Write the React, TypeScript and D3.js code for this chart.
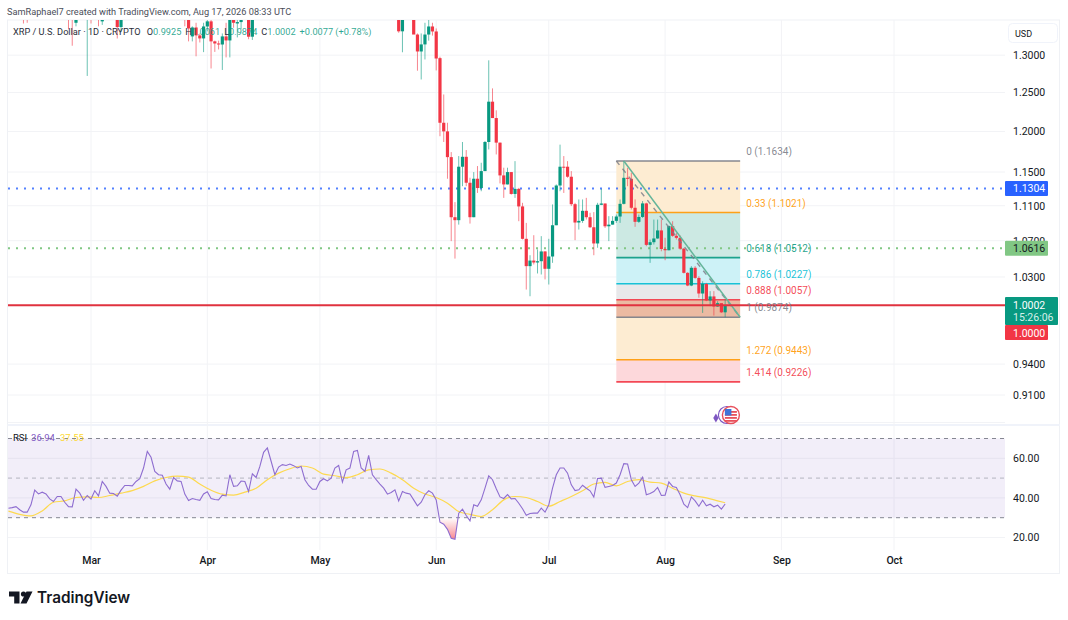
import * as d3 from "d3";
import { useEffect, useRef } from "react";

const width = 1068;
const height = 620;
const FONT = "Roboto, 'Noto Sans', sans-serif";

// candles that show inside the price pane, everything else in Feb-May sits above it
const candleDates = [
  "02-11", "02-12", "02-23", "02-24", "02-25", "02-28", "03-01", "03-03", "03-04", "03-08",
  "03-09", "03-26", "03-27", "03-28", "03-29", "03-30", "03-31", "04-01", "04-02", "04-03",
  "04-04", "04-05", "04-06", "04-07", "04-08", "04-09", "04-10", "04-12", "04-13", "05-22",
  "05-23", "05-26", "05-27", "05-28", "05-29", "05-30", "05-31", "06-01",
  "06-02", "06-03", "06-04", "06-05", "06-06", "06-07", "06-08", "06-09", "06-10", "06-11",
  "06-12", "06-13", "06-14", "06-15", "06-16", "06-17", "06-18", "06-19", "06-20", "06-21",
  "06-22", "06-23", "06-24", "06-25", "06-26", "06-27", "06-28", "06-29", "06-30",
  "07-01", "07-02", "07-03", "07-04", "07-05", "07-06", "07-07", "07-08", "07-09", "07-10",
  "07-11", "07-12", "07-13", "07-14", "07-15", "07-16", "07-17", "07-18", "07-19", "07-20",
  "07-21", "07-22", "07-23", "07-24", "07-25", "07-26", "07-27", "07-28", "07-29", "07-30", "07-31",
  "08-01", "08-02", "08-03", "08-04", "08-05", "08-06", "08-07", "08-08", "08-09", "08-10",
  "08-11", "08-12", "08-13", "08-14", "08-15", "08-16", "08-17",
];
const opens = [
  1.39, 1.38, 1.39, 1.39, 1.345, 1.37, 1.39, 1.39, 1.347, 1.36,
  1.339, 1.38, 1.36, 1.3259, 1.3384, 1.3273, 1.3231, 1.3398, 1.347, 1.319,
  1.3161, 1.3147, 1.3259, 1.3203, 1.352, 1.344, 1.346, 1.37, 1.3255, 1.37,
  1.333, 1.352, 1.3285, 1.3051, 1.3148, 1.3285, 1.3398, 1.3328,
  1.296, 1.211, 1.2001, 1.1681, 1.0967, 1.0933, 1.1564, 1.1685, 1.1371, 1.0967,
  1.1419, 1.1308, 1.1511, 1.1868, 1.2381, 1.217, 1.186, 1.1459, 1.1351, 1.1499,
  1.1238, 1.1298, 1.1092, 1.0721, 1.0418, 1.0479, 1.0458, 1.0472, 1.058,
  1.0389, 1.0524, 1.0875, 1.1338, 1.1564, 1.1564, 1.1443, 1.1118, 1.0906, 1.0925,
  1.1041, 1.0967, 1.0852, 1.0669, 1.1111, 1.1126, 1.0863, 1.0882, 1.0925, 1.0975,
  1.1122, 1.143, 1.1418, 1.1076, 1.0914, 1.097, 1.1127, 1.0653, 1.0683, 1.0725, 1.0816,
  1.0607, 1.0593, 1.0865, 1.0755, 1.0732, 1.0611, 1.0345, 1.0208, 1.04, 1.029,
  1.0123, 1.0225, 1.0049, 1.0092, 0.9986, 1.0021, 0.9925,
];
const highs = [
  1.41, 1.4, 1.4, 1.4, 1.37, 1.39, 1.41, 1.4, 1.37, 1.37,
  1.37, 1.39, 1.37, 1.34, 1.345, 1.33, 1.345, 1.36, 1.36, 1.32,
  1.32, 1.33, 1.345, 1.37, 1.37, 1.352, 1.365, 1.38, 1.38, 1.38,
  1.365, 1.37, 1.33, 1.33, 1.345, 1.35, 1.345, 1.337,
  1.298, 1.2475, 1.211, 1.1743, 1.1142, 1.1694, 1.1868, 1.1768, 1.1431, 1.1499,
  1.1572, 1.1612, 1.188, 1.293, 1.2555, 1.2269, 1.186, 1.1552, 1.1552, 1.1499,
  1.1632, 1.131, 1.1134, 1.0902, 1.0538, 1.0762, 1.0602, 1.0751, 1.0583,
  1.0721, 1.1115, 1.1351, 1.1835, 1.1694, 1.1632, 1.1511, 1.1134, 1.1173, 1.1173,
  1.1192, 1.1018, 1.1026, 1.1134, 1.1298, 1.1126, 1.0979, 1.0979, 1.0998, 1.1173,
  1.1634, 1.1551, 1.149, 1.1174, 1.0998, 1.1155, 1.1135, 1.0713, 1.094, 1.094, 1.094,
  1.0732, 1.0872, 1.0921, 1.0789, 1.0759, 1.0619, 1.0352, 1.0418, 1.0418, 1.0309,
  1.0254, 1.0236, 1.0148, 1.0148, 1.0042, 1.0018, 1.0061,
];
const lows = [
  1.344, 1.345, 1.336, 1.313, 1.34, 1.272, 1.344, 1.34, 1.342, 1.323,
  1.332, 1.34, 1.319, 1.319, 1.2985, 1.3175, 1.3042, 1.333, 1.282, 1.3045,
  1.3079, 1.28, 1.297, 1.297, 1.338, 1.3245, 1.336, 1.322, 1.321, 1.331,
  1.304, 1.33, 1.279, 1.2673, 1.2942, 1.32, 1.327, 1.2794,
  1.194, 1.1868, 1.1419, 1.0695, 1.0501, 1.0882, 1.133, 1.133, 1.0894, 1.0967,
  1.125, 1.127, 1.1511, 1.1776, 1.217, 1.1714, 1.1363, 1.1192, 1.1351, 1.123,
  1.1192, 1.0921, 1.0714, 1.0165, 1.0094, 1.0436, 1.0338, 1.0327, 1.0274,
  1.0219, 1.0454, 1.0875, 1.127, 1.125, 1.1431, 1.1096, 1.0706, 1.0826, 1.0902,
  1.094, 1.0844, 1.0538, 1.0621, 1.1107, 1.0844, 1.0695, 1.0882, 1.0902, 1.0902,
  1.1115, 1.133, 1.1056, 1.0857, 1.0902, 1.0959, 1.0638, 1.0454, 1.0657, 1.0721, 1.0582,
  1.0483, 1.0593, 1.0744, 1.0713, 1.06, 1.0338, 1.0201, 1.0201, 1.028, 1.0078,
  0.9919, 1.0042, 0.999, 0.9891, 0.9982, 0.9919, 0.9874,
];
const closes = [
  1.37, 1.37, 1.37, 1.37, 1.35, 1.39, 1.37, 1.37, 1.352, 1.339,
  1.36, 1.36, 1.337, 1.3384, 1.3273, 1.3231, 1.3398, 1.347, 1.319, 1.3161,
  1.3147, 1.3259, 1.3203, 1.352, 1.345, 1.346, 1.35, 1.3255, 1.37, 1.333,
  1.365, 1.3285, 1.3051, 1.3148, 1.3285, 1.3398, 1.3328, 1.2955,
  1.211, 1.2001, 1.1681, 1.0967, 1.0933, 1.1564, 1.1685, 1.1371, 1.0967, 1.1419,
  1.1308, 1.1511, 1.1868, 1.2381, 1.217, 1.186, 1.1459, 1.1351, 1.1499, 1.1238,
  1.1298, 1.1092, 1.0721, 1.0418, 1.0479, 1.0458, 1.0472, 1.058, 1.0389,
  1.0524, 1.0875, 1.1338, 1.1564, 1.1556, 1.1443, 1.1118, 1.0906, 1.0925, 1.1041,
  1.0967, 1.0852, 1.0669, 1.1111, 1.1126, 1.0863, 1.0882, 1.0925, 1.0975, 1.1122,
  1.143, 1.1418, 1.1076, 1.0914, 1.097, 1.1127, 1.0653, 1.0683, 1.0725, 1.0816, 1.0607,
  1.0593, 1.0865, 1.0755, 1.0732, 1.0611, 1.0345, 1.0208, 1.04, 1.029, 1.0123,
  1.0225, 1.0049, 1.0092, 0.9986, 1.0021, 0.9925, 1.0002,
];

// RSI, one value a day from Feb 7 to Aug 17
const rsiValues = [
  34.8, 35.1, 35.6, 34, 32.8, 32.8, 36.5, 43.9, 42, 42.9,
  42, 39.5, 38.2, 40.7, 40.7, 37.8, 35.6, 35.5, 44.4, 42.4,
  38.8, 41.2, 39.4, 43.6, 41, 48.3, 45.8, 42.4, 42.2, 40.9,
  43.9, 46.3, 46.3, 46.1, 48.3, 49.7, 55.1, 63.5, 60.5, 53.4,
  51.7, 51.4, 47, 44.4, 50.3, 48.6, 48.3, 41.9, 38.7, 39.7,
  39.2, 38.8, 42, 43.1, 39.7, 39.2, 39, 41.4, 41, 51.7,
  45.8, 46.1, 48.5, 48.3, 43.2, 52.2, 50.3, 55.9, 63, 65.2,
  58.5, 51.7, 55.6, 56.8, 56.4, 57.1, 56.3, 55.1, 55.9, 49.2,
  46.3, 44.4, 44.4, 48.3, 49.7, 48.6, 50, 55.1, 56.4, 48,
  54.2, 55.1, 63.5, 64, 55.1, 53.4, 61.5, 51.7, 49.2, 47,
  44.9, 41.9, 42.7, 44.1, 38.5,
  43.2, 42.4, 42, 39, 36, 37.8, 41.6, 43.6, 42.4, 39,
  27.7, 26.7, 24.1, 19.6, 19.1, 32.3, 34.3, 31.1, 28.4, 36.5,
  35.8, 39, 44.9, 51.2, 49.2, 44.6, 40.5, 39.7, 41.7, 39.5,
  39.7, 37.3, 34.5, 31.2, 32.1, 32.3, 32.3, 34.8, 32.8, 36.5,
  44.9, 51.7, 55.1, 55.1, 52.5, 46.6, 43.7, 44.1, 46.4, 44.9,
  43.6, 40.4, 49.8, 50, 45.3, 45.8, 46.3, 47.5, 51.7, 57.3,
  57.1, 49.2, 45.8, 47.5, 50.5, 41.6, 42.2, 43.2, 45.3, 41.2,
  41.4, 48.1, 45.8, 45.3, 41.6, 36.8, 35.1, 40.5, 38.5, 35.8,
  38.8, 36, 36.8, 35.5, 36.3, 34.3, 36.94,
];
// RSI moving average, read every third day, last point on Aug 17
const rsiMaValues = [
  33.3, 31.7, 30.9, 33.4, 37.8, 38.5, 40.2, 40.5, 40.2, 41.2,
  42.4, 43.7, 45.8, 48.6, 50.3, 51, 50.5, 47, 43.9, 41.9,
  41.4, 42.9, 44.9, 49.2, 52.5, 54.7, 56.1, 55.1, 52, 51.2,
  50.2, 51.7, 54.2, 54.6, 52.5,
  49.2, 44.9, 42, 40.2, 37.3, 33.1, 31.7, 30.6, 34, 39,
  40.7, 40.2, 38.2, 35.8, 38.2, 40.7, 43.6, 47, 47.8, 46.1,
  48.3, 49.2, 48, 47.5, 44.9, 42.4, 41, 40, 38.5, 37.55,
];

const priceTicks = [1.3, 1.25, 1.2, 1.15, 1.11, 1.07, 1.03, 0.94, 0.91];
const rsiTicks = [60, 40, 20];
const rsiBands = [70, 50, 30];
const monthDates = ["2026-03-01", "2026-04-01", "2026-05-01", "2026-06-01", "2026-07-01", "2026-08-01", "2026-09-01", "2026-10-01"];

const fibRatios = ["0", "0.33", "0.618", "0.786", "0.888", "1", "1.272", "1.414"];
const fibPrices = [1.1634, 1.1021, 1.0512, 1.0227, 1.0057, 0.9874, 0.9443, 0.9226];
const fibLineColors = ["#787b86", "#ff9800", "#089981", "#00bcd4", "#f23645", "#787b86", "#ff9800", "#f23645"];
// the band under each level, the first level has none
const fibBandColors = ["", "#fdecd2", "#cce9e3", "#cdf2f7", "#e8e8ea", "#ebbaa2", "#fdecd2", "#fdd8db"];
const fibStart = "2026-07-19";
const fibEnd = "2026-08-21";
const trendStart = "2026-07-21";

const bluePrice = 1.1304;
const greenPrice = 1.0616;
const roundPrice = 1.0;
const lastPrice = 1.0002;

const parse = (s: string) => d3.utcParse("%Y-%m-%d")(s) as Date;

export default function App() {
  const svgRef = useRef<SVGSVGElement | null>(null);

  useEffect(() => {
    if (!svgRef.current) return;
    const svg = d3.select(svgRef.current);
    svg.selectAll("*").remove();

    const paneLeft = 8;
    const paneRight = 1005;
    const mainTop = 20;
    const mainBottom = 425;
    const rsiBottom = 550;

    const x = d3.scaleUtc().domain([parse("2026-03-01"), parse("2026-10-01")]).range([91, 894]);
    const y = d3.scaleLog().domain([0.91, 1.3]).range([395, 55.2]);
    const rsiY = d3.scaleLinear().domain([20, 70]).range([537.5, 438.5]);
    const firstRsiDay = parse("2026-02-07");
    const rsiX = (i: number) => x(d3.utcDay.offset(firstRsiDay, i));

    svg.attr("font-family", FONT);

    const defs = svg.append("defs");
    defs.append("clipPath").attr("id", "main-clip").append("rect")
      .attr("x", paneLeft).attr("y", mainTop).attr("width", paneRight - paneLeft).attr("height", mainBottom - mainTop);
    defs.append("clipPath").attr("id", "oversold-clip").append("rect")
      .attr("x", paneLeft).attr("y", rsiY(30)).attr("width", paneRight - paneLeft).attr("height", rsiBottom - rsiY(30));
    const grad = defs.append("linearGradient").attr("id", "oversold")
      .attr("gradientUnits", "userSpaceOnUse")
      .attr("x1", 0).attr("x2", 0).attr("y1", rsiY(30)).attr("y2", rsiY(19));
    grad.append("stop").attr("offset", "0%").attr("stop-color", "#f23645").attr("stop-opacity", 0);
    grad.append("stop").attr("offset", "100%").attr("stop-color", "#f23645").attr("stop-opacity", 0.6);

    // frame
    svg.append("rect").attr("x", 7.5).attr("y", 20).attr("width", 1052).attr("height", 553.5)
      .attr("fill", "none").attr("stroke", "#eff1f5");
    svg.append("line").attr("x1", 7.5).attr("x2", 1060).attr("y1", mainBottom).attr("y2", mainBottom)
      .attr("stroke", "#f0f3fa").attr("stroke-width", 2);

    // grid
    const grid = svg.append("g").attr("stroke", "#f2f3f6");
    grid.selectAll(".hgrid").data(priceTicks).join("line")
      .attr("x1", paneLeft).attr("x2", paneRight).attr("y1", (d) => y(d)).attr("y2", (d) => y(d));
    grid.append("line").attr("x1", paneLeft).attr("x2", paneRight).attr("y1", 422.5).attr("y2", 422.5);
    grid.selectAll(".rgrid").data(rsiTicks).join("line")
      .attr("x1", paneLeft).attr("x2", paneRight).attr("y1", (d) => rsiY(d)).attr("y2", (d) => rsiY(d));
    grid.selectAll(".vgrid").data(monthDates).join("line")
      .attr("x1", (d) => x(parse(d))).attr("x2", (d) => x(parse(d)))
      .attr("y1", mainTop).attr("y2", rsiBottom);

    // fib bands and levels
    const fibX0 = x(parse(fibStart));
    const fibX1 = x(parse(fibEnd));
    const fib = svg.append("g");
    fibPrices.forEach((p, i) => {
      if (i === 0) return;
      fib.append("rect").attr("x", fibX0).attr("width", fibX1 - fibX0)
        .attr("y", y(fibPrices[i - 1])).attr("height", y(p) - y(fibPrices[i - 1]))
        .attr("fill", fibBandColors[i]);
    });
    fibPrices.forEach((p, i) => {
      fib.append("line").attr("x1", fibX0).attr("x2", fibX1).attr("y1", y(p)).attr("y2", y(p))
        .attr("stroke", fibLineColors[i]).attr("stroke-width", 1.6).attr("stroke-opacity", 0.9);
    });

    // dotted levels
    svg.append("line").attr("x1", paneLeft).attr("x2", paneRight).attr("y1", y(bluePrice)).attr("y2", y(bluePrice))
      .attr("stroke", "#2962ff").attr("stroke-opacity", 0.8).attr("stroke-width", 2).attr("stroke-dasharray", "2 6");
    svg.append("line").attr("x1", paneLeft).attr("x2", paneRight).attr("y1", y(greenPrice)).attr("y2", y(greenPrice))
      .attr("stroke", "#81c784").attr("stroke-width", 2).attr("stroke-dasharray", "2 6");

    // candles
    const candles = svg.append("g").attr("clip-path", "url(#main-clip)");
    candleDates.forEach((d, i) => {
      const cx = x(parse(`2026-${d}`));
      const up = closes[i] >= opens[i];
      const color = up ? "#089981" : "#f23645";
      candles.append("line").attr("x1", cx).attr("x2", cx)
        .attr("y1", y(highs[i])).attr("y2", y(lows[i]))
        .attr("stroke", color).attr("stroke-width", 1).attr("stroke-opacity", 0.6);
      const top = y(Math.max(opens[i], closes[i]));
      const bottom = y(Math.min(opens[i], closes[i]));
      candles.append("rect").attr("x", cx - 1.6).attr("width", 3.2)
        .attr("y", top).attr("height", Math.max(1, bottom - top))
        .attr("fill", color);
    });

    // trend lines over the candles
    const overlay = svg.append("g").attr("clip-path", "url(#main-clip)");
    overlay.append("line").attr("x1", fibX0).attr("y1", y(fibPrices[0])).attr("x2", fibX1).attr("y2", y(fibPrices[5]))
      .attr("stroke", "#787b86").attr("stroke-opacity", 0.8).attr("stroke-width", 1.4).attr("stroke-dasharray", "5 5");
    overlay.append("line").attr("x1", x(parse(trendStart))).attr("y1", y(fibPrices[0])).attr("x2", fibX1).attr("y2", y(fibPrices[5]))
      .attr("stroke", "#65b59a").attr("stroke-width", 1.5);
    overlay.append("line").attr("x1", paneLeft).attr("x2", paneRight).attr("y1", y(roundPrice)).attr("y2", y(roundPrice))
      .attr("stroke", "#e0323f").attr("stroke-width", 2);

    // fib labels
    svg.append("g").selectAll("text").data(fibPrices).join("text")
      .attr("x", fibX1 + 6).attr("y", (d) => y(d) - 6)
      .attr("font-size", 10)
      .attr("fill", (_, i) => fibLineColors[i])
      .attr("fill-opacity", 0.9)
      .text((d, i) => `${fibRatios[i]} (${d.toFixed(4)})`);

    // event marker under the last candles
    const eventX = x(parse("2026-08-18"));
    const marker = svg.append("g").attr("transform", `translate(${eventX}, 415)`);
    marker.append("circle").attr("cx", -2).attr("r", 8.5).attr("fill", "#fff").attr("stroke", "#7e57c2").attr("stroke-width", 1.2);
    marker.append("path").attr("d", d3.symbol().type(d3.symbolDiamond).size(24)()).attr("transform", "translate(-13, 3)").attr("fill", "#7e57c2");
    marker.append("circle").attr("cx", 2).attr("r", 8.5).attr("fill", "#fff").attr("stroke", "#e8505b").attr("stroke-width", 1.4);
    [-4, -1, 2, 5].forEach((dy) => {
      marker.append("rect").attr("x", -4).attr("y", dy).attr("width", 12).attr("height", 1.8).attr("fill", "#e8505b");
    });
    marker.append("rect").attr("x", -4).attr("y", -6).attr("width", 6.5).attr("height", 6.5).attr("fill", "#3f74d8");

    // RSI pane
    const rsi = svg.append("g");
    rsi.append("rect").attr("x", paneLeft).attr("width", paneRight - paneLeft)
      .attr("y", rsiY(70)).attr("height", rsiY(30) - rsiY(70))
      .attr("fill", "#7e57c2").attr("fill-opacity", 0.1);
    rsi.selectAll(".band").data(rsiBands).join("line")
      .attr("x1", paneLeft).attr("x2", paneRight).attr("y1", (d) => rsiY(d)).attr("y2", (d) => rsiY(d))
      .attr("stroke", "#787b86").attr("stroke-width", 1).attr("stroke-opacity", (d) => (d === 50 ? 0.5 : 0.9))
      .attr("stroke-dasharray", "4 4");

    const oversoldArea = d3.area<number>()
      .x((_, i) => rsiX(i))
      .y0(rsiY(30))
      .y1((d) => rsiY(d));
    rsi.append("path").attr("d", oversoldArea(rsiValues))
      .attr("clip-path", "url(#oversold-clip)").attr("fill", "url(#oversold)");

    const maLine = d3.line<number>()
      .x((_, k) => rsiX(Math.min(k * 3, rsiValues.length - 1)))
      .y((d) => rsiY(d))
      .curve(d3.curveMonotoneX);
    rsi.append("path").attr("d", maLine(rsiMaValues)).attr("fill", "none").attr("stroke", "#fdd94f").attr("stroke-width", 1.2);

    const rsiLine = d3.line<number>().x((_, i) => rsiX(i)).y((d) => rsiY(d));
    rsi.append("path").attr("d", rsiLine(rsiValues)).attr("fill", "none").attr("stroke", "#8e6dd0").attr("stroke-width", 1.1);

    // axes
    const styleAxis = (g: d3.Selection<SVGGElement, unknown, null, undefined>) => {
      g.select(".domain").remove();
      g.selectAll(".tick line").remove();
      g.selectAll(".tick text").attr("fill", "#131722").attr("font-size", 10.5).attr("font-family", FONT);
    };
    const priceAxis = svg.append("g").attr("transform", "translate(1005, 0)")
      .call(d3.axisRight(y).tickValues(priceTicks).tickFormat((d) => (d as number).toFixed(4)).tickSize(0).tickPadding(8));
    styleAxis(priceAxis);
    const rsiAxis = svg.append("g").attr("transform", "translate(1005, 0)")
      .call(d3.axisRight(rsiY).tickValues(rsiTicks).tickFormat((d) => (d as number).toFixed(2)).tickSize(0).tickPadding(8));
    styleAxis(rsiAxis);
    const timeAxis = svg.append("g").attr("transform", `translate(0, ${rsiBottom + 6.5})`)
      .call(d3.axisBottom(x).tickValues(monthDates.map(parse)).tickFormat((d) => d3.utcFormat("%b")(d as Date)).tickSize(0).tickPadding(0));
    styleAxis(timeAxis);
    timeAxis.selectAll(".tick text").attr("font-weight", 500);

    // price tags
    const tag = (price: number, w: number, fill: string, color: string) => {
      svg.append("rect").attr("x", 1005).attr("y", y(price) - 7.5).attr("width", w).attr("height", 15).attr("rx", 1).attr("fill", fill);
      svg.append("text").attr("x", 1013).attr("y", y(price) + 3.8).attr("font-size", 10.5).attr("fill", color).text(price.toFixed(4));
    };
    tag(bluePrice, 43, "#2962ff", "#fff");
    tag(greenPrice, 43, "#81c784", "#131722");

    svg.append("rect").attr("x", 1005).attr("y", 297).attr("width", 53).attr("height", 28).attr("rx", 1).attr("fill", "#089981");
    svg.append("text").attr("x", 1013).attr("y", 308.5).attr("font-size", 10.5).attr("fill", "#fff").text(lastPrice.toFixed(4));
    svg.append("text").attr("x", 1013).attr("y", 321).attr("font-size", 10.5).attr("fill", "#d5f0ea").text("15:26:06");
    svg.append("rect").attr("x", 1005).attr("y", 325).attr("width", 43).attr("height", 15).attr("rx", 1).attr("fill", "#f23645");
    svg.append("text").attr("x", 1013).attr("y", 336.5).attr("font-size", 10.5).attr("fill", "#fff").text(roundPrice.toFixed(4));

    // USD box
    svg.append("rect").attr("x", 1008.5).attr("y", 23.5).attr("width", 49).attr("height", 19).attr("rx", 4)
      .attr("fill", "#fff").attr("stroke", "#f0f3fa");
    svg.append("text").attr("x", 1015).attr("y", 36.5).attr("font-size", 9).attr("fill", "#131722").text("USD");

    // header and legends
    svg.append("text").attr("x", 7).attr("y", 14.5).attr("font-size", 9.2).attr("fill", "#4a4e59")
      .text("SamRaphael7 created with TradingView.com, Aug 17, 2026 08:33 UTC");

    const legend = svg.append("text").attr("x", 13).attr("y", 35).attr("font-size", 9.2);
    legend.append("tspan").attr("fill", "#2a2e39").text("XRP / U.S. Dollar · 1D · CRYPTO  ");
    [["O", "0.9925"], ["H", "1.0061"], ["L", "0.9874"], ["C", "1.0002"]].forEach(([k, v]) => {
      legend.append("tspan").attr("fill", "#2a2e39").attr("dx", 4).text(k);
      legend.append("tspan").attr("fill", "#089981").attr("fill-opacity", 0.85).text(v);
    });
    legend.append("tspan").attr("fill", "#089981").attr("fill-opacity", 0.85).attr("dx", 4).text("+0.0077 (+0.78%)");

    const rsiLegend = svg.append("text").attr("x", 13).attr("y", 441).attr("font-size", 9.5);
    rsiLegend.append("tspan").attr("fill", "#131722").text("RSI");
    rsiLegend.append("tspan").attr("fill", "#7e57c2").attr("dx", 4).text("36.94");
    rsiLegend.append("tspan").attr("fill", "#fdd835").attr("dx", 5).text("37.55");

    // TradingView mark
    const logo = svg.append("g").attr("fill", "#131722");
    logo.append("path").attr("d", "M9 591.5H19.5V603.5H14.2V596.5H9Z");
    logo.append("circle").attr("cx", 23.5).attr("cy", 594).attr("r", 2.6);
    logo.append("path").attr("d", "M26.5 591.5H32.5L26.5 603.5H20.5Z");
    svg.append("text").attr("x", 37).attr("y", 603).attr("font-size", 15.3).attr("font-weight", 600)
      .attr("font-family", "Inter, Roboto, sans-serif").attr("fill", "#131722").text("TradingView");
  }, []);

  return (
    <svg
      ref={svgRef}
      width={width}
      height={height}
      style={{ position: "absolute", left: 0, top: 0, background: "#fff" }}
    />
  );
}
